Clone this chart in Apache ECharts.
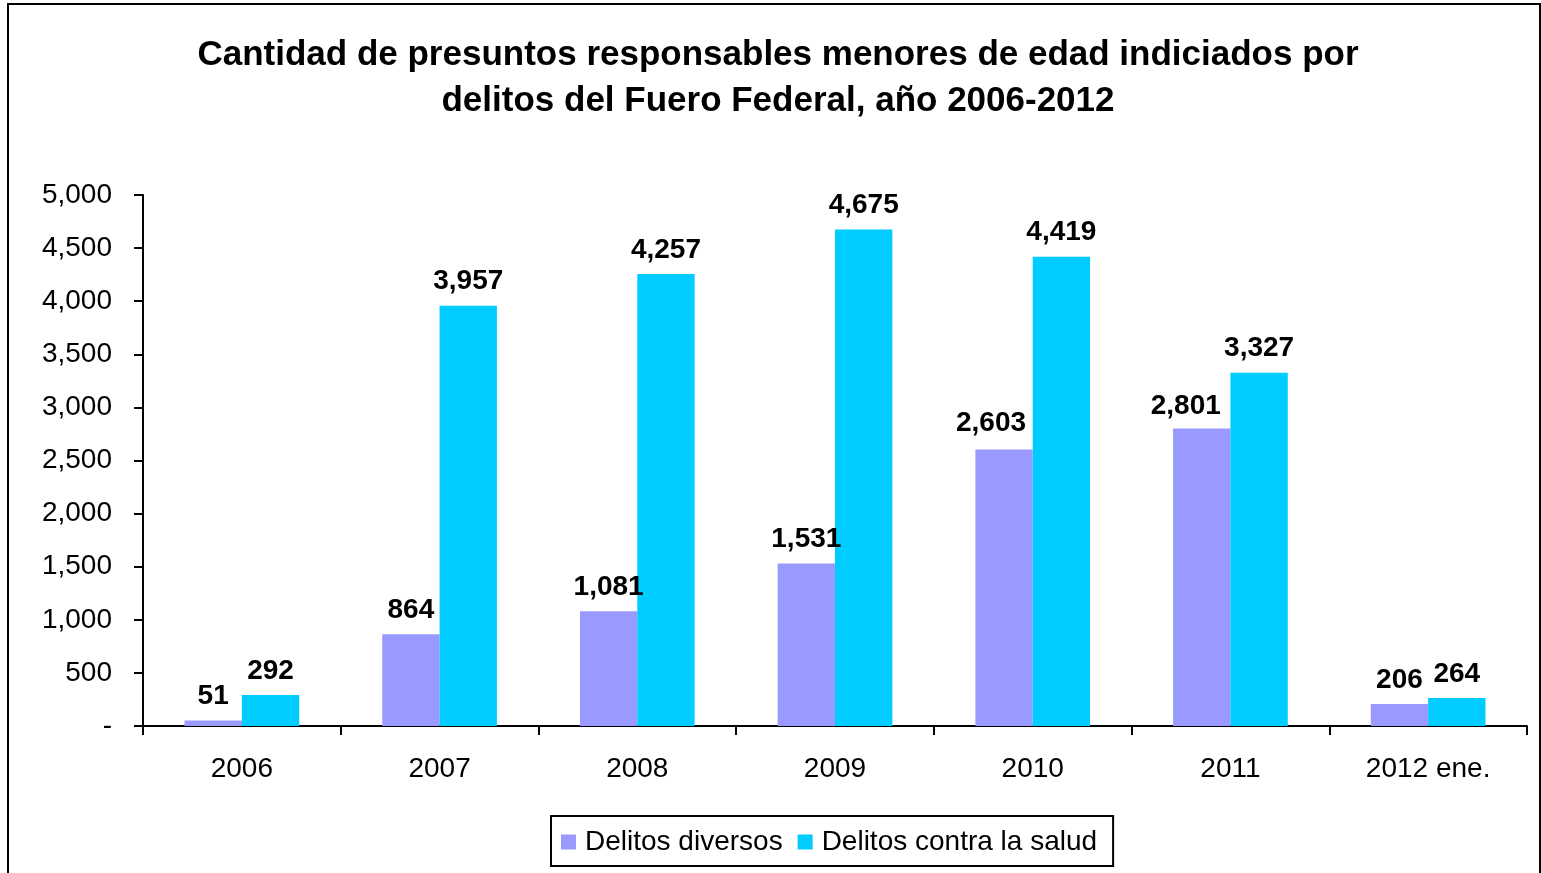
<!DOCTYPE html>
<html><head><meta charset="utf-8">
<script src="https://cdn.jsdelivr.net/npm/echarts@6/dist/echarts.min.js"></script>
<style>html,body{margin:0;padding:0;background:#fff}#c{width:1541px;height:873px}</style>
</head><body><div id="c"></div>
<script>
const categories = ['2006','2007','2008','2009','2010','2011','2012 ene.'];
const diversos = [51, 864, 1081, 1531, 2603, 2801, 206];
const salud = [292, 3957, 4257, 4675, 4419, 3327, 264];
const seriesNames = ['Delitos diversos','Delitos contra la salud'];
const titleText = 'Cantidad de presuntos responsables menores de edad indiciados por\ndelitos del Fuero Federal, año 2006-2012';

// manual label nudges (as in the original, labels moved to avoid overlap)
const diversosLabelShift = {'2010':[-13,-2], '2011':[-16,2]};

const fmt = v => v === 0 ? '-' : Number(v).toLocaleString('en-US');
const chart = echarts.init(document.getElementById('c'));
const labelStyle = {show:true, position:'top', distance:10, fontFamily:'Liberation Sans, Arial', fontWeight:'bold', fontSize:28, color:'#000', formatter:p=>fmt(p.value)};
const diversosData = diversos.map((v,i)=>{
  const s = diversosLabelShift[categories[i]];
  return s ? {value:v, label:{offset:s}} : v;
});
chart.setOption({
  animation:false,
  textStyle:{fontFamily:'Liberation Sans, Arial'},
  graphic:[{type:'rect', shape:{x:8,y:4,width:1532,height:880}, style:{fill:'none',stroke:'#000',lineWidth:2}, z:100}],
  title:{text:titleText, left:773, textAlign:'center', top:27, textStyle:{fontFamily:'Liberation Sans, Arial', fontWeight:'bold', fontSize:35, lineHeight:46, color:'#000'}},
  legend:{bottom:7, left:551, itemWidth:15, itemHeight:15, itemGap:15, icon:'rect', borderColor:'#000', borderWidth:2, padding:[12,16,10,10], borderRadius:0,
    textStyle:{fontFamily:'Liberation Sans, Arial', fontSize:28, color:'#000', padding:[0,0,0,4]}, data:seriesNames},
  grid:{left:143, right:14, top:195, bottom:147, containLabel:false},
  xAxis:{type:'category', data:categories, axisLine:{lineStyle:{color:'#000',width:2}},
    axisTick:{show:true, length:9, lineStyle:{color:'#000',width:2}, alignWithLabel:false},
    axisLabel:{fontSize:28, color:'#000', margin:29, fontFamily:'Liberation Sans, Arial'}},
  yAxis:{type:'value', min:0, max:5000, interval:500,
    axisLine:{show:true, lineStyle:{color:'#000',width:2}},
    axisTick:{show:true, length:9, lineStyle:{color:'#000',width:2}},
    splitLine:{show:false},
    axisLabel:{fontSize:28, color:'#000', margin:31, formatter:fmt, fontFamily:'Liberation Sans, Arial'}},
  series:[
    {name:seriesNames[0], type:'bar', data:diversosData, barGap:'0%', barCategoryGap:'42%', itemStyle:{color:'#9999FF'}, label:labelStyle},
    {name:seriesNames[1], type:'bar', data:salud, barGap:'0%', barCategoryGap:'42%', itemStyle:{color:'#00CCFF'}, label:labelStyle}
  ]
});
</script></body></html>
